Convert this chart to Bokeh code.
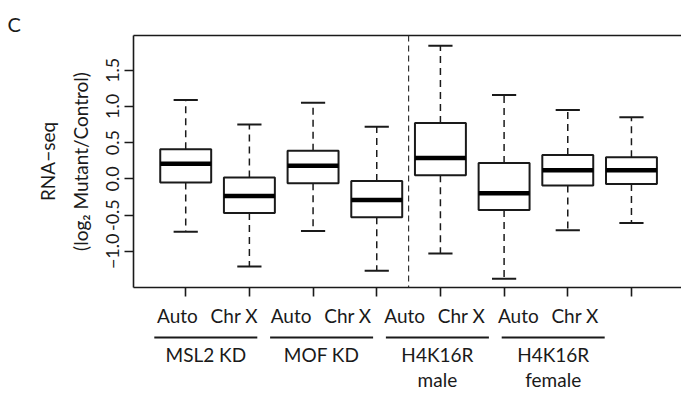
from bokeh.plotting import figure
from bokeh.layouts import column
from bokeh.models import Range1d, FixedTicker, LinearAxis, Span, CustomLabelingPolicy, AllLabels
from bokeh.core.properties import value
from bokeh.embed import file_html
from bokeh.resources import INLINE

# ---- data ----
conditions = ["MSL2 KD", "MOF KD", "H4K16R\nmale", "H4K16R\nfemale"]
chromosomes = ["Auto", "Chr X"]
upper_whisker = [1.09, 0.75, 1.05, 0.72, 1.84, 1.16, 0.95, 0.85]
q3 = [0.41, 0.02, 0.39, -0.03, 0.77, 0.22, 0.33, 0.30]
median = [0.21, -0.235, 0.18, -0.29, 0.29, -0.20, 0.12, 0.12]
q1 = [-0.05, -0.47, -0.06, -0.53, 0.05, -0.43, -0.09, -0.07]
lower_whisker = [-0.73, -1.21, -0.72, -1.27, -1.03, -1.38, -0.71, -0.61]
y_ticks = [-1.0, -0.5, 0.0, 0.5, 1.0, 1.5]
y_tick_labels = ["\u22121.0", "-0.5", "0.0", "0.5", "1.0", "1.5"]
y_title = "RNA\u2212seq\n(log\u2082 Mutant/Control)"
panel_letter = "C"
separator_after = 4  # dashed line between box 4 and box 5

FONT = "Lato"
INK = "#1a1a1a"
W, H = 681, 393
MAIN_H = 300
TXT = "19px"

n = len(median)
xs = [i + 1 for i in range(n)]
half_box = 0.4
half_cap = 0.19

p = figure(width=W, height=MAIN_H, output_backend="svg", toolbar_location=None,
           x_range=Range1d(0.18, 8.786), y_range=Range1d(-1.50, 1.98),
           min_border_left=133, min_border_right=0, min_border_top=35,
           min_border_bottom=MAIN_H - 287)
p.grid.visible = False
p.outline_line_color = None
p.background_fill_color = "white"
p.border_fill_color = "white"

# panel letter as title
p.title.text = panel_letter
p.title.align = "left"
p.title.offset = -126
p.title.text_font = FONT
p.title.text_font_size = "20px"
p.title.text_font_style = "normal"
p.title.text_color = INK
p.title.standoff = 0

# x axis: ticks only (labels are drawn in the strip below)
p.xaxis.ticker = FixedTicker(ticks=xs)
p.xaxis.major_label_overrides = {x: "" for x in xs}
p.xaxis.major_label_text_font_size = "1px"
p.xaxis.major_label_standoff = 0
p.xaxis.major_label_policy = CustomLabelingPolicy(
    code="for (const i of indices) { indices.unset(i) }\nreturn indices")
p.xaxis.major_tick_out = 9
p.xaxis.major_tick_in = 0
p.xaxis.minor_tick_line_color = None
p.xaxis.axis_line_width = 1.6
p.xaxis.axis_line_color = INK
p.xaxis.major_tick_line_width = 1.6
p.xaxis.major_tick_line_color = INK

# y axis
p.yaxis.ticker = FixedTicker(ticks=y_ticks)
p.yaxis.major_label_overrides = {t: s for t, s in zip(y_ticks, y_tick_labels)}
p.yaxis.major_label_orientation = "parallel"
p.yaxis.major_label_policy = AllLabels()
p.yaxis.major_tick_out = 9
p.yaxis.major_tick_in = 0
p.yaxis.minor_tick_line_color = None
p.yaxis.axis_line_width = 1.6
p.yaxis.axis_line_color = INK
p.yaxis.major_tick_line_width = 1.6
p.yaxis.major_tick_line_color = INK
p.yaxis.major_label_standoff = 5
p.yaxis.major_label_text_font = FONT
p.yaxis.major_label_text_font_size = "18px"
p.yaxis.major_label_text_color = INK
p.yaxis.axis_label = y_title
p.yaxis.axis_label_text_font = FONT
p.yaxis.axis_label_text_font_size = TXT
p.yaxis.axis_label_text_font_style = "normal"
p.yaxis.axis_label_text_color = INK
p.yaxis.axis_label_standoff = 12
p.yaxis.axis_label_text_line_height = 1.4

# top border
top = LinearAxis(ticker=FixedTicker(ticks=[]), major_label_text_font_size="0px",
                 major_tick_line_color=None, minor_tick_line_color=None,
                 axis_line_width=1.6, axis_line_color=INK)
p.add_layout(top, "above")

# separator
p.add_layout(Span(location=separator_after + 0.5, dimension="height",
                  line_color="#333333", line_width=1.2, line_dash="6 4"))

# whiskers
p.segment(x0=xs, y0=q3, x1=xs, y1=upper_whisker, line_color=INK, line_width=1.5, line_dash="7 5")
p.segment(x0=xs, y0=q1, x1=xs, y1=lower_whisker, line_color=INK, line_width=1.5, line_dash="7 5")
# caps
p.segment(x0=[x - half_cap for x in xs], y0=upper_whisker, x1=[x + half_cap for x in xs],
          y1=upper_whisker, line_color=INK, line_width=2)
p.segment(x0=[x - half_cap for x in xs], y0=lower_whisker, x1=[x + half_cap for x in xs],
          y1=lower_whisker, line_color=INK, line_width=2)
# boxes
p.quad(left=[x - half_box for x in xs], right=[x + half_box for x in xs], bottom=q1, top=q3,
       fill_color="white", line_color=INK, line_width=2)
# medians
p.segment(x0=[x - half_box for x in xs], y0=median, x1=[x + half_box for x in xs], y1=median,
          line_color="black", line_width=4.5, line_cap="butt")

# ---- label strip below (pixel coordinates of the page) ----
s = figure(width=W, height=H - MAIN_H, output_backend="svg", toolbar_location=None,
           x_range=Range1d(133, W), y_range=Range1d(H, MAIN_H),
           min_border_left=133, min_border_right=0, min_border_top=0, min_border_bottom=0,
           x_axis_location=None, y_axis_location=None)
s.grid.visible = False
s.outline_line_color = None
s.background_fill_color = "white"
s.border_fill_color = "white"

label_x = [177 + i * 56.8 for i in range(n)]
label_txt = [chromosomes[i % 2] for i in range(n)]
s.text(x=label_x, y=[315] * n, text=label_txt, text_align="center", text_baseline="middle",
       text_font=value(FONT), text_font_size=TXT, text_color=INK)

group_cx = [205.3 + g * 115.8 for g in range(len(conditions))]
s.segment(x0=[c - 51.5 for c in group_cx], y0=[337] * len(group_cx),
          x1=[c + 51.5 for c in group_cx], y1=[337] * len(group_cx),
          line_color=INK, line_width=2)
name_x, name_y, name_t = [], [], []
for c, name in zip(group_cx, conditions):
    for k, t in enumerate(name.split("\n")):
        name_x.append(c)
        name_y.append(354 + 25 * k)
        name_t.append(t)
s.text(x=name_x, y=name_y, text=name_t, text_align="center", text_baseline="middle",
       text_font=value(FONT), text_font_size=TXT, text_color=INK)

layout = column(p, s, spacing=0)
open("out.html", "w").write(file_html(layout, INLINE))
